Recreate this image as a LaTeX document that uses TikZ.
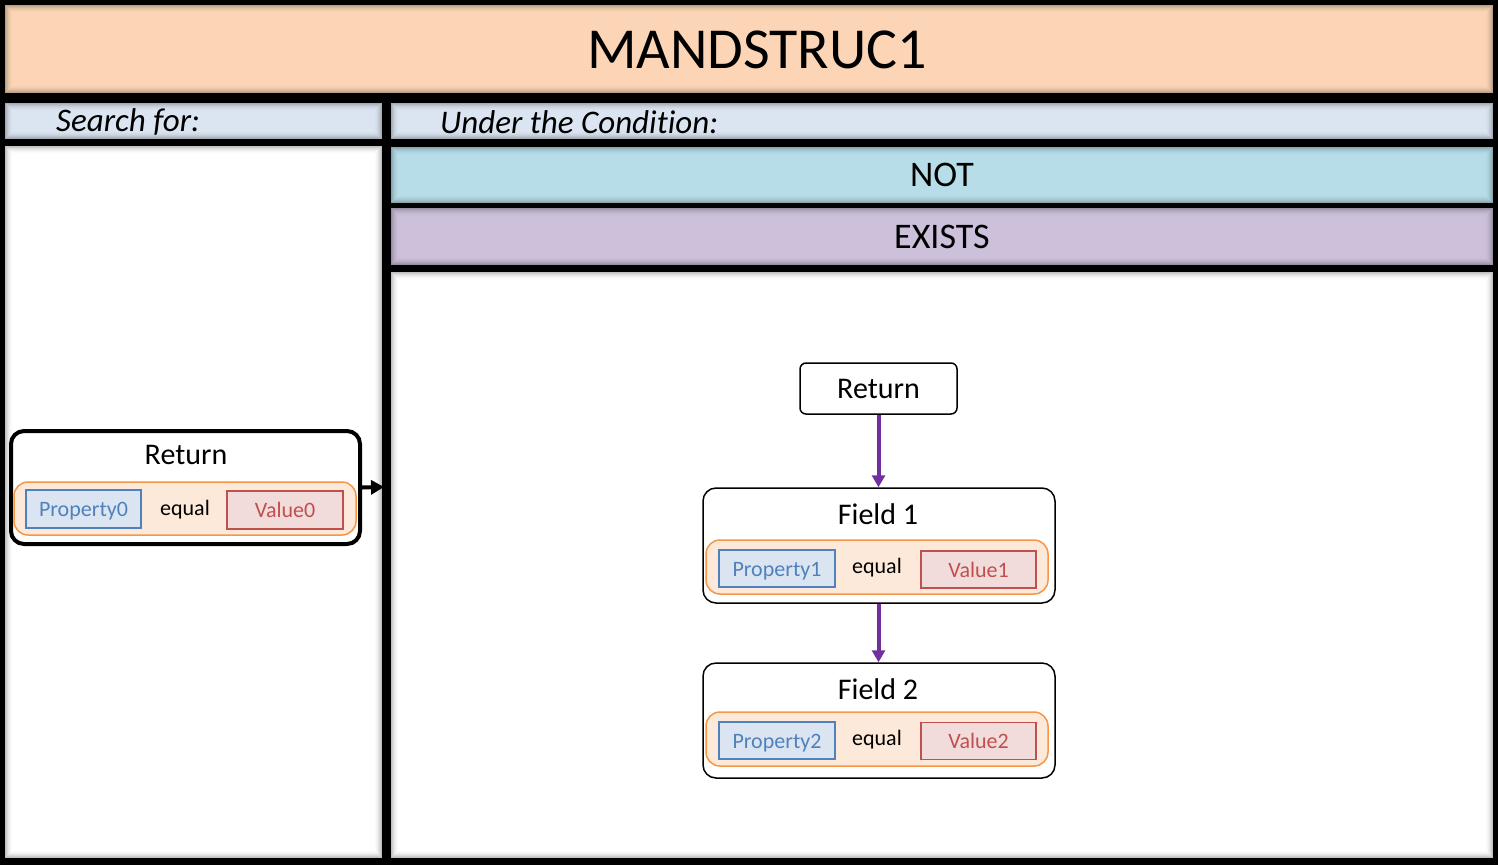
\documentclass[tikz,border=0pt]{standalone}
\usepackage{fontspec}
\setmainfont{Carlito}[Ligatures=NoCommon]
\usetikzlibrary{arrows.meta}
\definecolor{titleC}{RGB}{251,213,181}
\definecolor{headC}{RGB}{219,229,241}
\definecolor{notC}{RGB}{183,221,232}
\definecolor{existsC}{RGB}{204,192,218}
\definecolor{orangeF}{RGB}{253,233,217}
\definecolor{orangeD}{RGB}{247,150,70}
\definecolor{blueF}{RGB}{219,229,241}
\definecolor{blueD}{RGB}{79,129,189}
\definecolor{redF}{RGB}{242,220,219}
\definecolor{redD}{RGB}{192,80,77}
\definecolor{purpleA}{RGB}{112,48,160}
\tikzset{
  panel/.style={inner sep=0pt, outer sep=0pt,
    path picture={
      \foreach \i [evaluate=\i as \op using {0.32*(1-\i/9)^2}] in {1,...,8}{
        \draw[black, draw opacity=\op, line width=1pt]
          ([shift={({\i-0.5},{\i-0.5})}]path picture bounding box.north west) rectangle
          ([shift={({-\i+0.5},{-\i+0.5})}]path picture bounding box.south east);
      }}},
  headtxt/.style={font=\fontsize{33}{38}\selectfont\itshape, anchor=west, inner sep=0pt},
  bigbox/.style={draw=black, fill=white, rounded corners=13pt, line width=1.5pt, inner sep=0pt},
  cond/.style={draw=orangeD, fill=orangeF, rounded corners=14pt, line width=1.5pt, inner sep=0pt},
  smalltxt/.style={font=\fontsize{22}{26}\selectfont, text height=15pt, text depth=0pt},
  prop/.style={smalltxt, draw=blueD, fill=blueF, line width=1.5pt, text=blueD, inner sep=0pt},
  val/.style={smalltxt, draw=redD, fill=redF, line width=1.5pt, text=redD, inner sep=0pt},
  eqtxt/.style={smalltxt, inner sep=0pt},
  boxtitle/.style={font=\fontsize{30}{36}\selectfont, inner sep=0pt},
  flow/.style={draw=purpleA, line width=4pt, -{Triangle[length=12pt,width=13pt]}},
}
\begin{document}
\begin{tikzpicture}[x=1pt,y=-1pt]
\fill[black] (0,0) rectangle (1498,865);
\useasboundingbox (0,0) rectangle (1498,865);
% panels
\node[panel, fill=titleC, minimum width=1488, minimum height=88] (title) at (749,49) {};
\node[font=\fontsize{58}{64}\selectfont, inner sep=0pt] (titlet) at (757,50) {MANDSTRUC1};
\node[panel, fill=headC, minimum width=377, minimum height=36] (search) at (193.5,121) {};
\node[headtxt] (searcht) at (56,122) {Search for:};
\node[panel, fill=headC, minimum width=1102, minimum height=36] (under) at (942,121) {};
\node[headtxt] (undert) at (440,122) {Under the Condition:};
\node[panel, fill=white, minimum width=377, minimum height=712] (leftp) at (193.5,502) {};
\node[panel, fill=notC, minimum width=1102, minimum height=56,
  font=\fontsize{36}{42}\selectfont] (notp) at (942,175) {NOT};
\node[panel, fill=existsC, minimum width=1102, minimum height=57,
  font=\fontsize{36}{42}\selectfont] (existsp) at (942,236.5) {EXISTS};
\node[panel, fill=white, minimum width=1102, minimum height=586] (rightp) at (942,565) {};

% left return box
\node[bigbox, line width=4pt, minimum width=349, minimum height=113] (ret0) at (185.5,487.5) {};
\node[boxtitle] (ret0t) at (186,455) {Return};
\node[cond, minimum width=342, minimum height=53] (cond0) at (185,508.5) {};
\node[prop, minimum width=115, minimum height=38] (p0) at (83.5,509) {Property0};
\node[eqtxt] (e0) at (185,508) {equal};
\node[val, minimum width=116, minimum height=38] (v0) at (285,510) {Value0};
\coordinate (arrend) at (384,487);
\draw[line width=4pt, -{Triangle[length=13pt,width=14pt]}] (ret0.east) -- (arrend);

% right structure
\node[bigbox, rounded corners=6pt, minimum width=157, minimum height=51,
  font=\fontsize{30}{36}\selectfont] (ret1) at (878.5,388.5) {Return};

\node[bigbox, minimum width=352, minimum height=115] (f1) at (879,545.5) {};
\node[boxtitle] (f1t) at (878,514) {Field 1};
\node[cond, minimum width=342, minimum height=54] (cond1) at (877,567) {};
\node[prop, minimum width=116, minimum height=37] (p1) at (777,568.5) {Property1};
\node[eqtxt] (e1) at (877,566) {equal};
\node[val, minimum width=115, minimum height=37] (v1) at (978.5,569.5) {Value1};

\node[bigbox, minimum width=352, minimum height=115] (f2) at (879,720.5) {};
\node[boxtitle] (f2t) at (878,689) {Field 2};
\node[cond, minimum width=342, minimum height=54] (cond2) at (877,739) {};
\node[prop, minimum width=116, minimum height=37] (p2) at (777,740.5) {Property2};
\node[eqtxt] (e2) at (877,738) {equal};
\node[val, minimum width=115, minimum height=37] (v2) at (978.5,741) {Value2};

\draw[flow] (ret1.south) -- (ret1.south |- f1.north);
\draw[flow] (ret1.south |- f1.south) -- (ret1.south |- f2.north);
\end{tikzpicture}
\end{document}
